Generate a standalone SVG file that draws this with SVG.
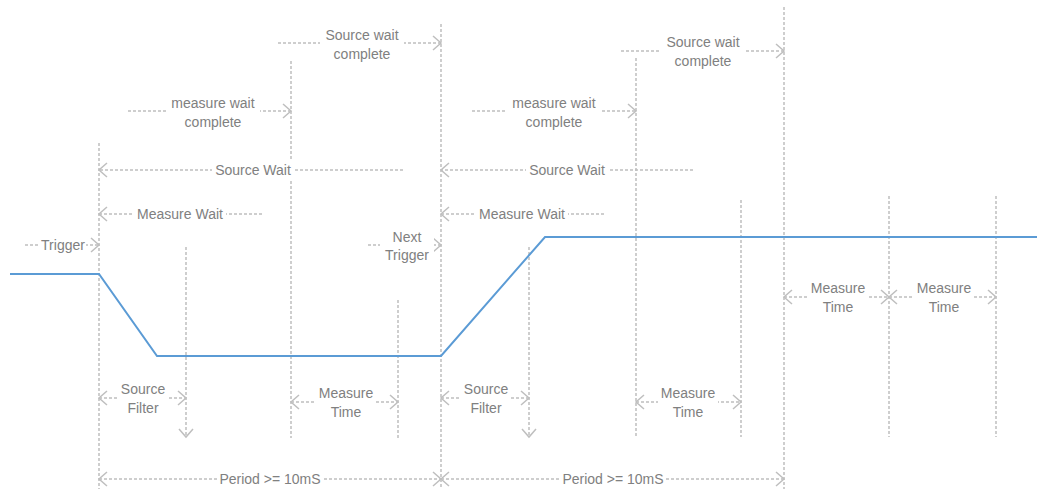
<svg xmlns="http://www.w3.org/2000/svg" width="1037" height="489" viewBox="0 0 1037 489">
<style>
.d{fill:none;stroke:#BFBFBF;stroke-width:1.5;stroke-dasharray:3 2}
.t{font-family:"Liberation Sans",Arial,sans-serif;font-size:14px;fill:#808080;text-anchor:middle;dominant-baseline:central}
.bg{fill:#FFFFFF}
.sig{fill:none;stroke:#5B9BD5;stroke-width:2;stroke-linejoin:miter}
</style>
<defs>
<marker id="a" viewBox="0 0 20 20" markerWidth="20" markerHeight="20" refX="10" refY="10" orient="auto-start-reverse" markerUnits="userSpaceOnUse">
<path d="M2,3 L10,10 L2,17" fill="none" stroke="#BFBFBF" stroke-width="1.5" stroke-dasharray="none"/>
</marker>
</defs>
<rect width="1037" height="489" fill="#FFFFFF"/>

<g id="guides">
<line class="d" x1="99" y1="143" x2="99" y2="489"/>
<line class="d" x1="186" y1="247" x2="186" y2="437" marker-end="url(#a)"/>
<line class="d" x1="291" y1="61" x2="291" y2="438"/>
<line class="d" x1="398" y1="300" x2="398" y2="438"/>
<line class="d" x1="441" y1="24" x2="441" y2="489"/>
<line class="d" x1="529" y1="247" x2="529" y2="437" marker-end="url(#a)"/>
<line class="d" x1="636" y1="58" x2="636" y2="437"/>
<line class="d" x1="741" y1="200" x2="741" y2="437"/>
<line class="d" x1="784" y1="7" x2="784" y2="489"/>
<line class="d" x1="889" y1="196" x2="889" y2="437"/>
<line class="d" x1="996" y1="196" x2="996" y2="437"/>
</g>

<g id="signal">
<polyline class="sig" points="10,274 99,274 157,356 441,356 545,237 1037,237"/>
</g>

<g id="connectors">
<line class="d" x1="25" y1="245" x2="99" y2="245" marker-end="url(#a)"/>
<line class="d" x1="262" y1="214" x2="99" y2="214" marker-end="url(#a)"/>
<line class="d" x1="403" y1="170" x2="99" y2="170" marker-end="url(#a)"/>
<line class="d" x1="128" y1="111" x2="291" y2="111" marker-end="url(#a)"/>
<line class="d" x1="278" y1="43" x2="441" y2="43" marker-end="url(#a)"/>
<line class="d" x1="368" y1="245" x2="441" y2="245" marker-end="url(#a)"/>
<line class="d" x1="693" y1="170" x2="441" y2="170" marker-end="url(#a)"/>
<line class="d" x1="604" y1="214" x2="441" y2="214" marker-end="url(#a)"/>
<line class="d" x1="472" y1="111" x2="636" y2="111" marker-end="url(#a)"/>
<line class="d" x1="621" y1="51" x2="784" y2="51" marker-end="url(#a)"/>
<line class="d" x1="99" y1="398" x2="186" y2="398" marker-start="url(#a)" marker-end="url(#a)"/>
<line class="d" x1="291" y1="402" x2="398" y2="402" marker-start="url(#a)" marker-end="url(#a)"/>
<line class="d" x1="99" y1="479" x2="441" y2="479" marker-start="url(#a)" marker-end="url(#a)"/>
<line class="d" x1="441" y1="398" x2="529" y2="398" marker-start="url(#a)" marker-end="url(#a)"/>
<line class="d" x1="636" y1="402" x2="741" y2="402" marker-start="url(#a)" marker-end="url(#a)"/>
<line class="d" x1="441" y1="479" x2="784" y2="479" marker-start="url(#a)" marker-end="url(#a)"/>
<line class="d" x1="784" y1="297" x2="889" y2="297" marker-start="url(#a)" marker-end="url(#a)"/>
<line class="d" x1="889" y1="297" x2="996" y2="297" marker-start="url(#a)" marker-end="url(#a)"/>
</g>

<g id="lbl-trigger"><rect class="bg" x="40" y="237" width="46" height="16"/><text class="t" x="63" y="245">Trigger</text></g>
<g id="lbl-measure-wait-1"><rect class="bg" x="134" y="205" width="92" height="18"/><text class="t" x="180" y="214">Measure Wait</text></g>
<g id="lbl-source-wait-1"><rect class="bg" x="212" y="161" width="82" height="18"/><text class="t" x="253" y="170">Source Wait</text></g>
<g id="lbl-mwc-1"><rect class="bg" x="166" y="95" width="94" height="36"/><text class="t" x="213" y="103">measure wait</text><text class="t" x="213" y="122">complete</text></g>
<g id="lbl-swc-1"><rect class="bg" x="320" y="26" width="84" height="36"/><text class="t" x="362" y="35">Source wait</text><text class="t" x="362" y="54">complete</text></g>
<g id="lbl-next-trigger"><rect class="bg" x="380" y="228" width="54" height="36"/><text class="t" x="407" y="237">Next</text><text class="t" x="407" y="255">Trigger</text></g>
<g id="lbl-source-wait-2"><rect class="bg" x="526" y="161" width="82" height="18"/><text class="t" x="567" y="170">Source Wait</text></g>
<g id="lbl-measure-wait-2"><rect class="bg" x="476" y="205" width="92" height="18"/><text class="t" x="522" y="214">Measure Wait</text></g>
<g id="lbl-mwc-2"><rect class="bg" x="507" y="95" width="94" height="36"/><text class="t" x="554" y="103">measure wait</text><text class="t" x="554" y="122">complete</text></g>
<g id="lbl-swc-2"><rect class="bg" x="661" y="33" width="84" height="38"/><text class="t" x="703" y="42">Source wait</text><text class="t" x="703" y="61">complete</text></g>
<g id="lbl-source-filter-1"><rect class="bg" x="118" y="380" width="50" height="36"/><text class="t" x="143" y="389">Source</text><text class="t" x="143" y="408">Filter</text></g>
<g id="lbl-measure-time-1"><rect class="bg" x="316" y="384" width="60" height="36"/><text class="t" x="346" y="393">Measure</text><text class="t" x="346" y="412">Time</text></g>
<g id="lbl-period-1"><rect class="bg" x="218" y="471" width="104" height="16"/><text class="t" x="270" y="479">Period &gt;= 10mS</text></g>
<g id="lbl-source-filter-2"><rect class="bg" x="461" y="380" width="50" height="36"/><text class="t" x="486" y="389">Source</text><text class="t" x="486" y="408">Filter</text></g>
<g id="lbl-measure-time-2"><rect class="bg" x="658" y="384" width="60" height="36"/><text class="t" x="688" y="393">Measure</text><text class="t" x="688" y="412">Time</text></g>
<g id="lbl-period-2"><rect class="bg" x="561" y="471" width="104" height="16"/><text class="t" x="613" y="479">Period &gt;= 10mS</text></g>
<g id="lbl-measure-time-3"><rect class="bg" x="808" y="279" width="60" height="36"/><text class="t" x="838" y="288">Measure</text><text class="t" x="838" y="307">Time</text></g>
<g id="lbl-measure-time-4"><rect class="bg" x="914" y="279" width="60" height="36"/><text class="t" x="944" y="288">Measure</text><text class="t" x="944" y="307">Time</text></g>
</svg>
